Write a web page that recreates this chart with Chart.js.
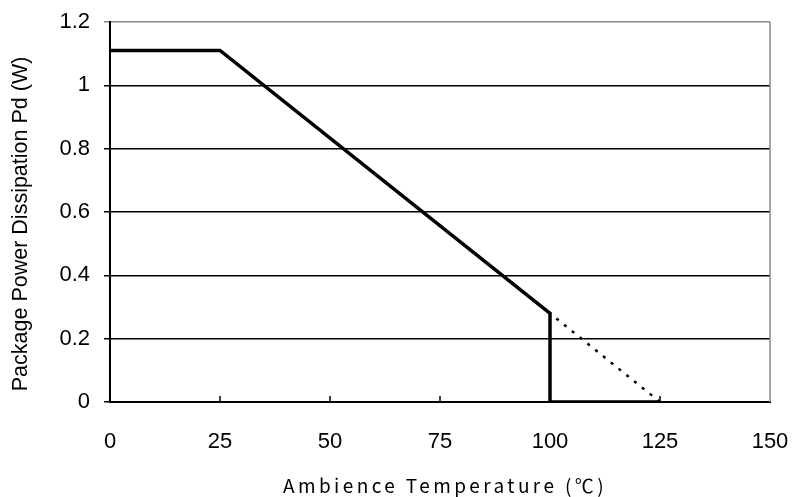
<!DOCTYPE html>
<html lang="en">
<head>
    <meta charset="UTF-8" />
    <title>Package Power Dissipation</title>
    <script src="https://cdn.jsdelivr.net/npm/chart.js"></script>
    <style>
        html, body { margin: 0; padding: 0; background: #fff; }
        #wrap { width: 792px; height: 497px; }
    </style>
</head>
<body>
<div id="wrap"><canvas id="pdChart" width="792" height="497"></canvas></div>

<script>
    // derating curve (solid) and extrapolation (dotted)
    const solidTemps = [0, 25, 100, 100, 125];
    const solidPower = [1.11, 1.11, 0.28, 0, 0];
    const dotTemps = [25, 100, 125];
    const dotPower = [1.11, 0.28, 0];

    const xTicks = [0, 25, 50, 75, 100, 125, 150];
    const yTicks = [0, 0.2, 0.4, 0.6, 0.8, 1, 1.2];
    const yTickLabels = ["0", "0.2", "0.4", "0.6", "0.8", "1", "1.2"];

    const xTitle = "Ambience Temperature (℃)";
    const yTitle = "Package Power Dissipation Pd (W)";

    function toPoints(xs, ys) {
        return xs.map((x, i) => ({ x: x, y: ys[i] }));
    }

    // inward x ticks, grey right frame line and the spaced-out x title
    const framePlugin = {
        id: "frame",
        afterDatasetsDraw(chart) {
            const ctx = chart.ctx;
            const a = chart.chartArea;
            const xs = chart.scales.x;
            ctx.save();
            ctx.strokeStyle = "#000";
            ctx.lineWidth = 1.5;
            xTicks.forEach((v) => {
                if (v === 0 || v === 150) return;
                const px = xs.getPixelForValue(v);
                ctx.beginPath();
                ctx.moveTo(px, a.bottom);
                ctx.lineTo(px, a.bottom - 6);
                ctx.stroke();
            });
            ctx.strokeStyle = "#888";
            ctx.beginPath();
            ctx.moveTo(a.right, a.top);
            ctx.lineTo(a.right, a.bottom);
            ctx.stroke();
            ctx.restore();
        },
        afterDraw(chart) {
            const ctx = chart.ctx;
            const a = chart.chartArea;
            ctx.save();
            ctx.font = "19px 'Noto Sans CJK JP', sans-serif";
            ctx.fillStyle = "#000";
            ctx.textAlign = "center";
            ctx.textBaseline = "middle";
            if ("letterSpacing" in ctx) ctx.letterSpacing = "3.4px";
            ctx.fillText(xTitle, (a.left + a.right) / 2 + 5, 486);
            ctx.restore();
        }
    };

    const ctx = document.getElementById("pdChart").getContext("2d");
    new Chart(ctx, {
        type: "scatter",
        data: {
            datasets: [
                {
                    label: "Pd",
                    data: toPoints(solidTemps, solidPower),
                    showLine: true,
                    borderColor: "#000",
                    borderWidth: 3.5,
                    pointRadius: 0,
                    tension: 0,
                    order: 1
                },
                {
                    label: "extrapolation",
                    data: toPoints(dotTemps, dotPower),
                    showLine: true,
                    borderColor: "#000",
                    borderWidth: 2.5,
                    borderDash: [3, 7],
                    pointRadius: 0,
                    tension: 0,
                    order: 2
                }
            ]
        },
        options: {
            responsive: false,
            animation: false,
            layout: { padding: { top: 22, right: 22, left: 0, bottom: 0 } },
            plugins: {
                legend: { display: false },
                tooltip: { enabled: false }
            },
            scales: {
                x: {
                    type: "linear",
                    min: 0,
                    max: 150,
                    afterBuildTicks: (s) => { s.ticks = xTicks.map((v) => ({ value: v })); },
                    afterFit: (s) => {
                        s.height = 95;
                        s.paddingLeft = 0;
                        s.paddingRight = 0;
                    },
                    ticks: {
                        color: "#000",
                        font: { family: "'Liberation Sans', Arial, sans-serif", size: 22 },
                        padding: 27,
                        maxRotation: 0
                    },
                    grid: { display: true, drawOnChartArea: false, drawTicks: false },
                    border: { display: true, color: "#000", width: 2 },
                    title: { display: false }
                },
                y: {
                    min: 0,
                    max: 1.2,
                    afterBuildTicks: (s) => { s.ticks = yTicks.map((v) => ({ value: v })); },
                    afterFit: (s) => {
                        s.width = 110;
                        s.paddingTop = 0;
                        s.paddingBottom = 0;
                    },
                    ticks: {
                        color: "#000",
                        font: { family: "'Liberation Sans', Arial, sans-serif", size: 22 },
                        padding: 14,
                        callback: (v, i) => yTickLabels[i]
                    },
                    grid: {
                        color: (c) => (c.tick && c.tick.value === 1.2 ? "#888" : "#000"),
                        lineWidth: 1.5,
                        tickLength: 6
                    },
                    border: { display: true, color: "#000", width: 2 },
                    title: {
                        display: true,
                        text: yTitle + "\u00a0\u00a0\u00a0\u00a0",
                        color: "#000",
                        font: { family: "'Liberation Sans', Arial, sans-serif", size: 21.5 },
                        padding: { top: 8, bottom: 4 }
                    }
                }
            }
        },
        plugins: [framePlugin]
    });
</script>
</body>
</html>
